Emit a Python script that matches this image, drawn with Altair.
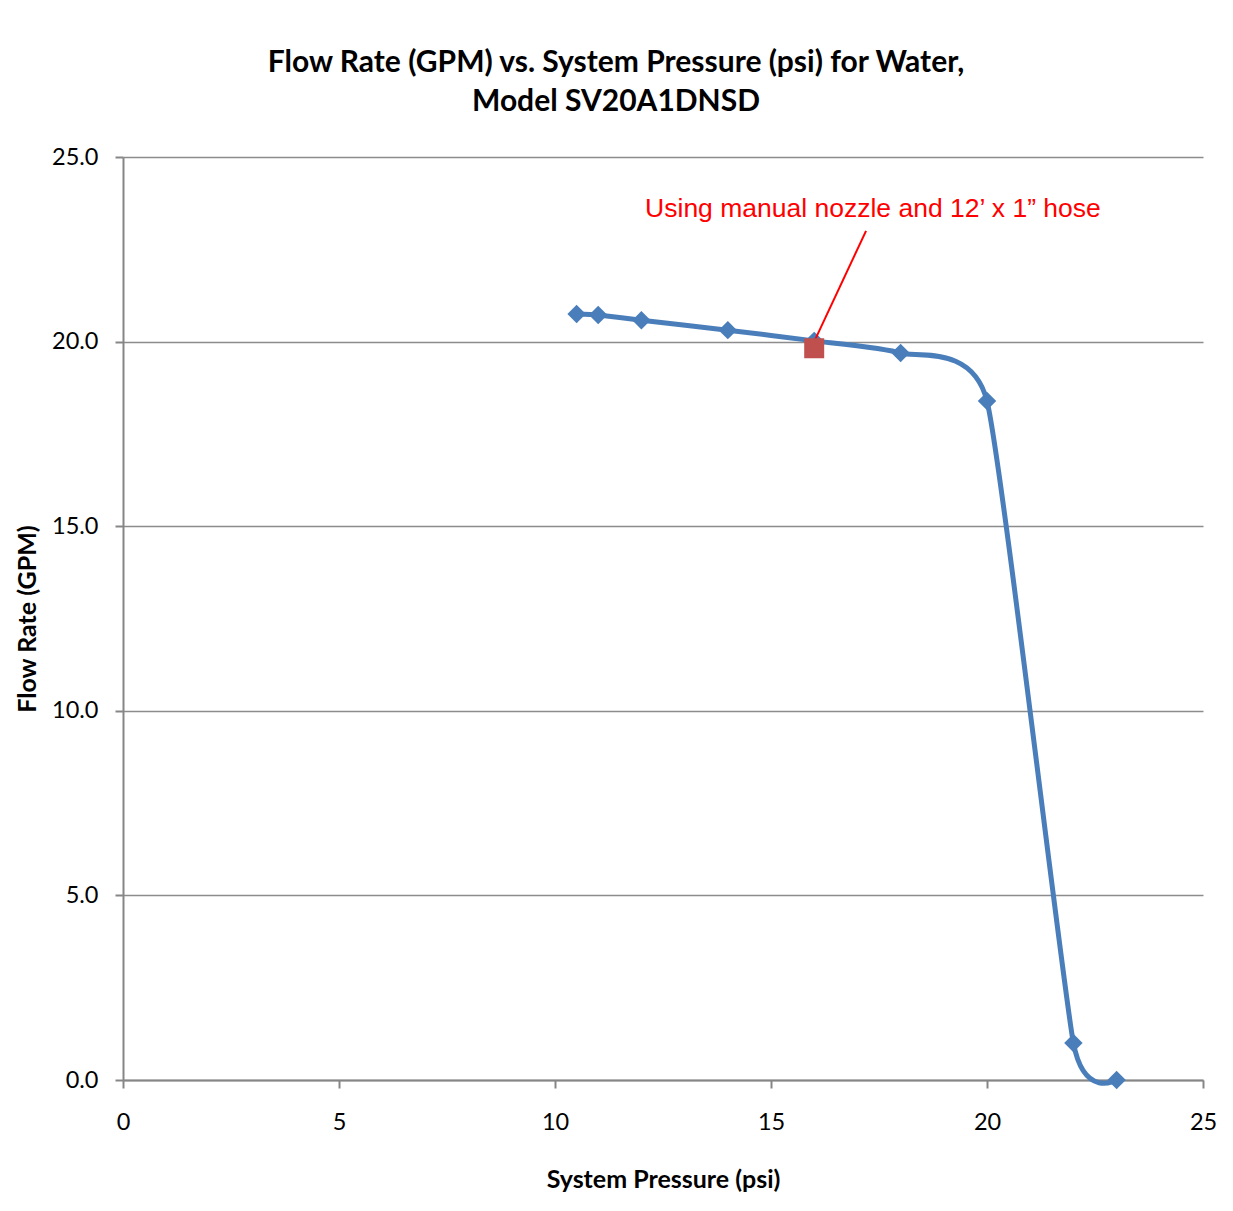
import altair as alt
import pandas as pd

pressure = [10.5, 11, 12, 14, 16, 18, 20, 22, 23]
flow = [20.75, 20.72, 20.58, 20.31, 20.02, 19.69, 18.39, 1.0, 0.0]

marked_pressure = [16]
marked_flow = [19.82]

note_text = ["Using manual nozzle and 12\u2019 x 1\u201d hose"]
note_x = [17.36]
note_y = [23.59]
leader_x = [17.2]
leader_y = [23.0]
leader_x2 = [16.0]
leader_y2 = [20.0]

df = pd.DataFrame({"p": pressure, "f": flow})
dm = pd.DataFrame({"p": marked_pressure, "f": marked_flow})
dn = pd.DataFrame({"t": note_text, "x": note_x, "y": note_y})
dl = pd.DataFrame({"x": leader_x, "y": leader_y, "x2": leader_x2, "y2": leader_y2})

xs = alt.Scale(domain=[0, 25], nice=False, zero=True)
ys = alt.Scale(domain=[0, 25], nice=False, zero=True)

xaxis = alt.Axis(
    title="System Pressure (psi)", values=[0, 5, 10, 15, 20, 25], grid=False,
    labelFont="Lato", labelFontSize=23.5, labelColor="black", labelPadding=22,
    labelFlush=False, labelOverlap=False,
    titleFont="Lato", titleFontSize=25, titleFontWeight="bold", titleColor="black",
    titlePadding=34, tickSize=8, tickColor="#868686", domainColor="#868686", domainWidth=2,
    tickWidth=2,
)
yaxis = alt.Axis(
    title="Flow Rate (GPM)", values=[0, 5, 10, 15, 20, 25], format=".1f", grid=True,
    gridColor="#8c8c8c", gridWidth=1.5,
    labelFont="Lato", labelFontSize=23.5, labelColor="black", labelPadding=17,
    labelFlush=False, labelOverlap=False,
    titleFont="Lato", titleFontSize=25, titleFontWeight="bold", titleColor="black",
    titlePadding=11, tickSize=8, tickColor="#868686", domainColor="#868686", domainWidth=2,
    tickWidth=2,
)

base = alt.Chart(df)
line = base.mark_line(color="#4A7EBB", strokeWidth=5, interpolate="cardinal", tension=0.5).encode(
    x=alt.X("p:Q", scale=xs, axis=xaxis),
    y=alt.Y("f:Q", scale=ys, axis=yaxis),
)
pts = base.mark_point(shape="diamond", filled=True, size=340, color="#4A7EBB", opacity=1).encode(
    x="p:Q", y="f:Q"
)
leader = alt.Chart(dl).mark_rule(color="#FF0000", strokeWidth=2).encode(
    x="x:Q", y="y:Q", x2="x2:Q", y2="y2:Q"
)
marked = alt.Chart(dm).mark_point(shape="square", filled=True, size=400, color="#C0504D", opacity=1).encode(
    x="p:Q", y="f:Q"
)
note = alt.Chart(dn).mark_text(
    font="Liberation Sans", fontSize=26.5, color="#FF0000", align="center", baseline="middle"
).encode(x="x:Q", y="y:Q", text="t:N")

chart = alt.layer(line, pts, leader, marked, note).properties(
    width=1080, height=923,
    title=alt.TitleParams(
        ["Flow Rate (GPM) vs. System Pressure (psi) for Water,", "Model SV20A1DNSD"],
        font="Lato", fontSize=30, fontWeight="bold", color="black",
        anchor="middle", dx=-47, offset=28, lineHeight=39,
    ),
    autosize=alt.AutoSizeParams(type="none"),
    padding={"left": 115, "top": 149, "right": 20, "bottom": 125},
    background="white",
).configure_view(stroke=None)

chart.save("out.html", embed_options={"renderer": "svg", "actions": False})
